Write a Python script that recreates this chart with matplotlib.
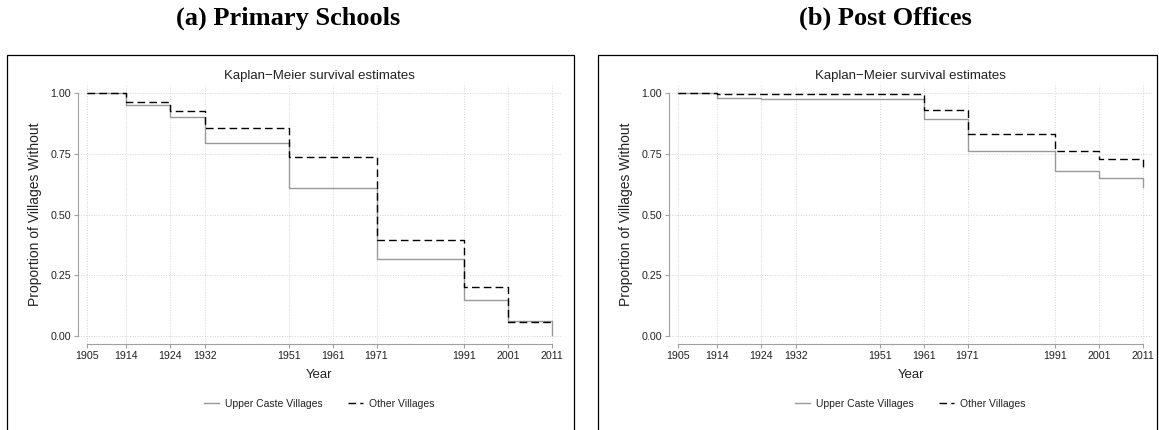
import matplotlib
matplotlib.use("Agg")
import matplotlib.pyplot as plt
from matplotlib.patches import Rectangle

plt.rcParams['font.family'] = ['Liberation Sans', 'DejaVu Sans']

# Year ticks used on both panels
year_ticks = [1905, 1914, 1924, 1932, 1951, 1961, 1971, 1991, 2001, 2011]
y_ticks = [0.0, 0.25, 0.5, 0.75, 1.0]

# (a) Primary Schools
school_upper_t = [1905, 1914, 1924, 1932, 1951, 1971, 1991, 2001, 2011]
school_upper_s = [1.00, 0.950, 0.903, 0.793, 0.610, 0.315, 0.149, 0.062, 0.003]
school_other_t = [1905, 1914, 1924, 1932, 1951, 1971, 1991, 2001, 2011]
school_other_s = [1.00, 0.965, 0.927, 0.854, 0.735, 0.396, 0.203, 0.059, 0.059]

# (b) Post Offices
post_upper_t = [1905, 1914, 1924, 1961, 1971, 1991, 2001, 2011]
post_upper_s = [1.00, 0.979, 0.975, 0.892, 0.761, 0.681, 0.652, 0.613]
post_other_t = [1905, 1914, 1961, 1971, 1991, 2001, 2011]
post_other_s = [1.00, 0.994, 0.928, 0.831, 0.762, 0.729, 0.692]

panel_titles = ['(a) Primary Schools', '(b) Post Offices']
series_labels = ['Upper Caste Villages', 'Other Villages']

W, H = 1159, 430
fig = plt.figure(figsize=(W / 100, H / 100), dpi=100)

def px_axes(left, right, top, bottom):
    return fig.add_axes([left / W, 1 - bottom / H, (right - left) / W, (bottom - top) / H])

axes = [px_axes(78, 561, 85, 344), px_axes(669, 1152, 85, 344)]
data = [(school_upper_t, school_upper_s, school_other_t, school_other_s),
        (post_upper_t, post_upper_s, post_other_t, post_other_s)]

axis_gray = '#a0a0a0'
for ax, (ut, us, ot, os_) in zip(axes, data):
    ax.step(ut, us, where='post', color='#999999', lw=1.0, label=series_labels[0])
    ax.step(ot, os_, where='post', color='black', lw=1.0, linestyle=(0, (5.5, 3)),
            label=series_labels[1])
    ax.set_xlim(1905 - 9 / 4.39, 2011 + 9 / 4.39)
    ax.set_ylim(-8 / 243, 1 + 8 / 243)
    ax.set_xticks(year_ticks)
    ax.set_yticks(y_ticks)
    ax.set_yticklabels(['%.2f' % v for v in y_ticks])
    ax.grid(True, color='#d4d4d4', linestyle=':', linewidth=0.7)
    ax.set_axisbelow(True)
    for s in ['top', 'right']:
        ax.spines[s].set_visible(False)
    ax.spines['left'].set_bounds(0, 1)
    ax.spines['bottom'].set_bounds(1905, 2011)
    for s in ['left', 'bottom']:
        ax.spines[s].set_color(axis_gray)
        ax.spines[s].set_linewidth(0.8)
    ax.tick_params(axis='both', colors=axis_gray, labelcolor='#222222',
                   labelsize=7.7, length=3, width=0.8, pad=2)
    ax.set_xlabel('Year', fontsize=9.5, color='#222222', labelpad=5.5)
    ax.set_ylabel('Proportion of Villages Without', fontsize=10, color='#222222', labelpad=6)
    ax.set_title('Kaplan\u2212Meier survival estimates', fontsize=9.5, color='#222222', pad=4)
    ax.legend(loc='center', bbox_to_anchor=(0.5, -0.232), ncol=2, frameon=False,
              fontsize=7.5, handlelength=1.45, handletextpad=0.6, columnspacing=2.4,
              labelcolor='#222222')

# outer boxes around each panel
for x0, x1 in [(7, 574), (598, 1157)]:
    fig.add_artist(Rectangle((x0 / W, -0.1), (x1 - x0) / W, 1.1 - 55 / H,
                             transform=fig.transFigure, fill=False,
                             edgecolor='black', lw=0.9, clip_on=False))

for cx, t in zip([288, 885], panel_titles):
    fig.text(cx / W, 1 - 18 / H, t, ha='center', va='center', fontsize=19,
             fontweight='bold', family=['Liberation Serif', 'DejaVu Serif'])

fig.savefig('out.png', dpi=100)
